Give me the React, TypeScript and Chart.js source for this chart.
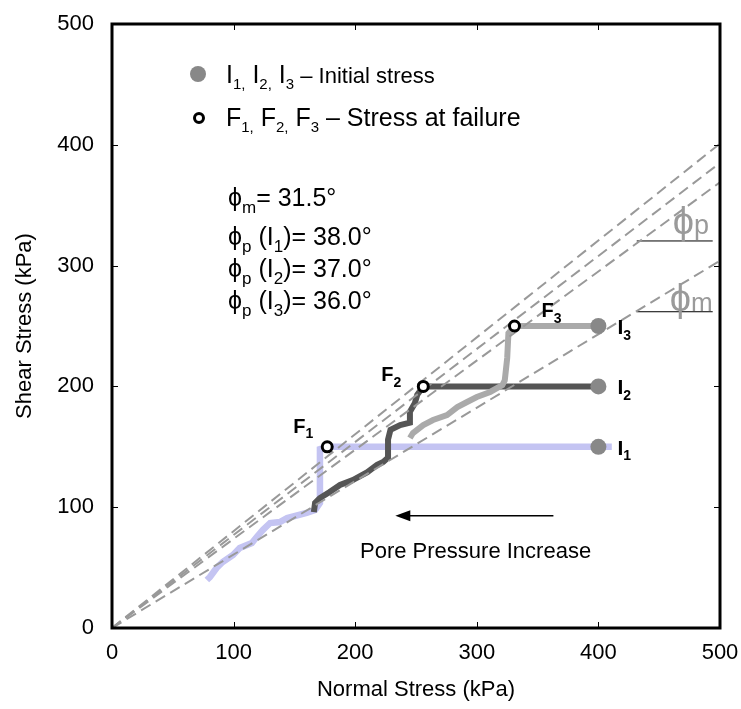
import React, { useEffect, useRef } from "react";
import { Chart, registerables } from "chart.js";

Chart.register(...registerables);

const FONT = "'Liberation Sans', Arial, 'DejaVu Sans', sans-serif";

// Axis ticks (kPa)
const X_TICKS = [0, 100, 200, 300, 400, 500];
const Y_TICKS = [0, 100, 200, 300, 400, 500];

// Stress path from I1 (normal stress, shear stress in kPa)
const PATH1_X = [411, 400, 177, 171, 171, 167, 160, 144, 138, 130, 124, 119, 115, 105, 99.5, 91, 86, 80.5, 78];
const PATH1_Y = [150, 150, 150, 148, 103.5, 97.7, 95.2, 91, 87.7, 86.9, 81.1, 75.3, 70.4, 66.2, 60.4, 54.6, 49.7, 42.2, 39.7];

// Stress path from I2
const PATH2_X = [400, 256, 251, 249, 245, 245, 237, 229, 227, 227, 223, 218, 210, 198, 187.5, 179, 171, 167, 166];
const PATH2_Y = [200, 200, 193, 186, 179, 170, 168, 164, 156, 141, 137.4, 135, 129, 122.5, 118.4, 112.6, 107.6, 103.5, 96];

// Stress path from I3
const PATH3_X = [400, 331, 326, 325, 323, 321, 311, 300, 292, 284, 275.5, 264, 256, 247.5, 245];
const PATH3_Y = [250, 250, 244, 223.5, 205, 201, 195.4, 191.2, 187.1, 182.9, 176.3, 172.2, 168, 161.4, 157.3];

// Initial stress points I1..I3 and failure points F1..F3
const INITIAL_X = [400, 400, 400];
const INITIAL_Y = [150, 200, 250];
const FAILURE_X = [177, 256, 331];
const FAILURE_Y = [150, 200, 250];

// Failure envelopes through the origin: shear stress reached at normal stress 500
const ENVELOPE_LABELS = ["phi_p I1", "phi_p I2", "phi_p I3", "phi_m"];
const ENVELOPE_END_X = 500;
const ENVELOPE_END_Y = [401, 385, 369, 304];

// Horizontal reference lines for the angle annotations
const REF_X = [431.5, 494];
const REF_Y = [320.4, 261.8];

// Arrow "Pore Pressure Increase"
const ARROW_X = [363, 233];
const ARROW_Y = [93, 93];

const pts = (xs: number[], ys: number[]) => xs.map((x, i) => ({ x, y: ys[i] }));

type Run = { t: string; s: number; sub?: boolean; b?: boolean };

function drawRuns(ctx: CanvasRenderingContext2D, x: number, y: number, runs: Run[], color: string, align: "left" | "center" = "left") {
  let total = 0;
  for (const r of runs) {
    ctx.font = `${r.b ? "bold " : ""}${r.s}px ${FONT}`;
    total += ctx.measureText(r.t).width;
  }
  let cx = align === "center" ? x - total / 2 : x;
  ctx.textAlign = "left";
  ctx.textBaseline = "alphabetic";
  ctx.fillStyle = color;
  for (const r of runs) {
    ctx.font = `${r.b ? "bold " : ""}${r.s}px ${FONT}`;
    const dy = r.sub ? r.s * 0.4 : 0;
    ctx.fillText(r.t, cx, y + dy);
    cx += ctx.measureText(r.t).width;
  }
}

const decorPlugin = {
  id: "decor",
  afterDatasetsDraw(chart: any) {
    const { ctx, chartArea: ca, scales } = chart;
    const xs = scales.x;
    const ys = scales.y;
    const px = (v: number) => xs.getPixelForValue(v);
    const py = (v: number) => ys.getPixelForValue(v);
    ctx.save();

    // inward tick marks
    ctx.strokeStyle = "#000";
    ctx.lineWidth = 1;
    ctx.beginPath();
    X_TICKS.slice(1, -1).forEach((v) => {
      const x = Math.round(px(v)) + 0.5;
      ctx.moveTo(x, ca.bottom);
      ctx.lineTo(x, ca.bottom - 6);
      ctx.moveTo(x, ca.top);
      ctx.lineTo(x, ca.top + 6);
    });
    Y_TICKS.slice(1, -1).forEach((v) => {
      const y = Math.round(py(v)) + 0.5;
      ctx.moveTo(ca.left, y);
      ctx.lineTo(ca.left + 6, y);
      ctx.moveTo(ca.right, y);
      ctx.lineTo(ca.right - 6, y);
    });
    ctx.stroke();

    // frame
    ctx.lineWidth = 3;
    ctx.strokeRect(ca.left, ca.top, ca.right - ca.left, ca.bottom - ca.top);

    // arrow
    const ax0 = px(ARROW_X[0]), ax1 = px(ARROW_X[1]);
    const ay = py(ARROW_Y[0]);
    ctx.lineWidth = 1.5;
    ctx.beginPath();
    ctx.moveTo(ax0, ay);
    ctx.lineTo(ax1 + 8, ay);
    ctx.stroke();
    ctx.fillStyle = "#000";
    ctx.beginPath();
    ctx.moveTo(ax1, ay);
    ctx.lineTo(ax1 + 15, ay - 5.5);
    ctx.lineTo(ax1 + 15, ay + 5.5);
    ctx.closePath();
    ctx.fill();

    // Pore pressure text
    drawRuns(ctx, px(299), py(93) + 42, [{ t: "Pore Pressure Increase", s: 22 }], "#000", "center");

    // Point labels
    const fOff = [[-34, -14], [-42, -5], [27, -9]];
    FAILURE_X.forEach((fx, i) => {
      const x = px(fx) + fOff[i][0];
      const y = py(FAILURE_Y[i]) + fOff[i][1];
      drawRuns(ctx, x, y, [{ t: "F", s: 20, b: true }, { t: String(i + 1), s: 14, b: true, sub: true }], "#000");
    });
    INITIAL_X.forEach((ix, i) => {
      const x = px(ix) + 19;
      const y = py(INITIAL_Y[i]) + 8;
      drawRuns(ctx, x, y, [{ t: "I", s: 21, b: true }, { t: String(i + 1), s: 14, b: true, sub: true }], "#000");
    });

    // Legend
    const L = ca.left;
    const T = ca.top;
    ctx.fillStyle = "#888";
    ctx.beginPath();
    ctx.arc(L + 86, T + 50, 8, 0, Math.PI * 2);
    ctx.fill();
    ctx.fillStyle = "#fff";
    ctx.strokeStyle = "#000";
    ctx.lineWidth = 3;
    ctx.beginPath();
    ctx.arc(L + 87, T + 94, 4.5, 0, Math.PI * 2);
    ctx.fill();
    ctx.stroke();
    drawRuns(ctx, L + 114, T + 59, [
      { t: "I", s: 25 }, { t: "1,", s: 15, sub: true }, { t: " I", s: 25 }, { t: "2,", s: 15, sub: true },
      { t: " I", s: 25 }, { t: "3", s: 15, sub: true }, { t: " – Initial stress", s: 22 },
    ], "#000");
    drawRuns(ctx, L + 114, T + 102, [
      { t: "F", s: 25 }, { t: "1,", s: 15, sub: true }, { t: " F", s: 25 }, { t: "2,", s: 15, sub: true },
      { t: " F", s: 25 }, { t: "3", s: 15, sub: true }, { t: " – Stress at failure", s: 25 },
    ], "#000");

    // Friction angle equations
    const eqX = L + 116;
    drawRuns(ctx, eqX, T + 182, [{ t: "ϕ", s: 25 }, { t: "m", s: 17, sub: true }, { t: "= 31.5°", s: 25 }], "#000");
    const eqs = ["38.0°", "37.0°", "36.0°"];
    eqs.forEach((e, i) => {
      drawRuns(ctx, eqX, T + 221 + i * 32, [
        { t: "ϕ", s: 25 }, { t: "p", s: 17, sub: true }, { t: " (I", s: 25 }, { t: String(i + 1), s: 17, sub: true },
        { t: ")= " + e, s: 25 },
      ], "#000");
    });

    // angle annotations at right
    drawRuns(ctx, px(REF_X[0]) + 36, py(REF_Y[0]) - 7, [{ t: "ϕ", s: 38 }, { t: "p", s: 27 }], "#9a9a9a");
    drawRuns(ctx, px(REF_X[0]) + 33, py(REF_Y[1]) - 1, [{ t: "ϕ", s: 38 }, { t: "m", s: 26 }], "#9a9a9a");

    ctx.restore();
  },
};

const noPad = (s: any) => {
  s.paddingLeft = 0;
  s.paddingRight = 0;
  s.paddingTop = 0;
  s.paddingBottom = 0;
};

export default function App() {
  const ref = useRef<HTMLCanvasElement | null>(null);
  useEffect(() => {
    if (!ref.current) return;
    const envelopeSets = ENVELOPE_END_Y.map((ey, i) => ({
      label: ENVELOPE_LABELS[i],
      data: [{ x: 0, y: 0 }, { x: ENVELOPE_END_X, y: ey }],
      showLine: true,
      borderColor: "#999999",
      borderWidth: 2,
      borderDash: [11, 6],
      pointRadius: 0,
      order: 2,
    }));
    const refSets = REF_Y.map((ry, i) => ({
      label: "ref" + i,
      data: [{ x: REF_X[0], y: ry }, { x: REF_X[1], y: ry }],
      showLine: true,
      borderColor: "#000",
      borderWidth: 1,
      pointRadius: 0,
      order: 2,
    }));
    const chart = new Chart(ref.current, {
      type: "scatter",
      data: {
        datasets: [
          {
            label: "Initial",
            data: pts(INITIAL_X, INITIAL_Y),
            pointRadius: 8,
            pointBackgroundColor: "#888888",
            pointBorderWidth: 0,
            order: 0,
          },
          {
            label: "Failure",
            data: pts(FAILURE_X, FAILURE_Y),
            pointRadius: 5,
            pointBackgroundColor: "#ffffff",
            pointBorderColor: "#000",
            pointBorderWidth: 3,
            order: 0,
          },
          ...envelopeSets,
          ...refSets,
          {
            label: "Path I3",
            data: pts(PATH3_X, PATH3_Y),
            showLine: true,
            borderColor: "#aaaaaa",
            borderWidth: 6,
            pointRadius: 0,
            order: 3,
          },
          {
            label: "Path I2",
            data: pts(PATH2_X, PATH2_Y),
            showLine: true,
            borderColor: "#555555",
            borderWidth: 6,
            pointRadius: 0,
            order: 4,
          },
          {
            label: "Path I1",
            data: pts(PATH1_X, PATH1_Y),
            showLine: true,
            borderColor: "#c4c4f2",
            borderWidth: 6.5,
            pointRadius: 0,
            order: 5,
          },
        ],
      },
      options: {
        animation: false,
        responsive: false,
        devicePixelRatio: 1,
        layout: { padding: { left: 0, right: 21, top: 24, bottom: 0 } },
        plugins: { legend: { display: false }, tooltip: { enabled: false } },
        scales: {
          x: {
            type: "linear",
            min: 0,
            max: 500,
            afterFit: (s: any) => { s.height = 81; noPad(s); },
            afterBuildTicks: (s: any) => { s.ticks = X_TICKS.map((v) => ({ value: v })); },
            grid: { display: false },
            border: { display: false },
            ticks: { color: "#000", font: { size: 22, family: FONT }, padding: 4, maxRotation: 0, autoSkip: false },
            title: { display: true, text: "Normal Stress (kPa)", color: "#000", font: { size: 22, family: FONT }, padding: { top: 0, bottom: 6 } },
          },
          y: {
            type: "linear",
            min: 0,
            max: 500,
            afterFit: (s: any) => { s.width = 112; noPad(s); },
            afterBuildTicks: (s: any) => { s.ticks = Y_TICKS.map((v) => ({ value: v })); },
            grid: { display: false },
            border: { display: false },
            ticks: { color: "#000", font: { size: 22, family: FONT }, padding: 10, autoSkip: false },
            title: { display: true, text: "Shear Stress (kPa)", color: "#000", font: { size: 22, family: FONT }, padding: { top: 12, bottom: 0 } },
          },
        },
      },
      plugins: [decorPlugin],
    } as any);
    return () => chart.destroy();
  }, []);
  return (
    <div style={{ position: "absolute", left: 0, top: 0, width: 741, height: 709, background: "#fff" }}>
      <canvas ref={ref} width={741} height={709} style={{ display: "block" }} />
    </div>
  );
}
